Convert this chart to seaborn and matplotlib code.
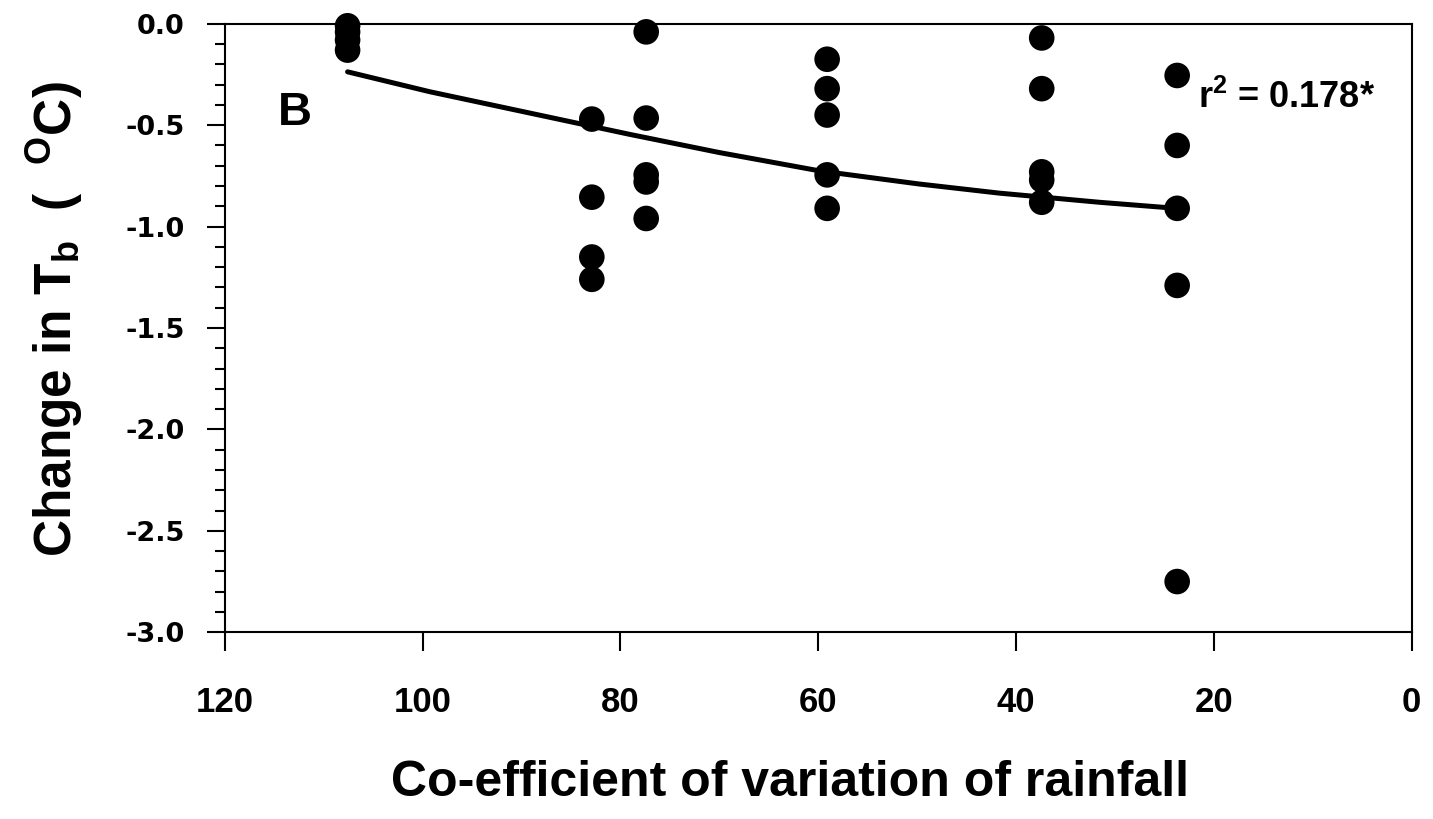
import matplotlib
matplotlib.use("Agg")
import matplotlib.pyplot as plt
import seaborn as sns
import pandas as pd
import numpy as np
from matplotlib.ticker import MultipleLocator

# ---- data ----
cv_groups = [107.6, 82.9, 77.4, 59.1, 37.4, 23.7]
tb_g1 = [-0.01, -0.04, -0.08, -0.13]
tb_g2 = [-0.47, -0.855, -1.15, -1.26]
tb_g3 = [-0.04, -0.465, -0.745, -0.78, -0.96]
tb_g4 = [-0.175, -0.32, -0.45, -0.745, -0.91]
tb_g5 = [-0.07, -0.32, -0.73, -0.77, -0.88]
tb_g6 = [-0.255, -0.60, -0.91, -1.29, -2.75]

fit_x = [107.6, 99.3, 89.2, 79.1, 70.0, 59.9, 49.8, 41.7, 31.6, 23.8]
fit_y = [-0.237, -0.335, -0.44, -0.545, -0.635, -0.725, -0.79, -0.835, -0.88, -0.91]

x_ticks = [120, 100, 80, 60, 40, 20, 0]
y_ticks = [0.0, -0.5, -1.0, -1.5, -2.0, -2.5, -3.0]

panel_label = "B"
r2_label = r"r$^\mathregular{2}$ = 0.178*"
xlabel = "Co-efficient of variation of rainfall"
ylabel = r"Change in T$_\mathregular{b}$  (  $^\mathregular{O}$C)"

rows = []
for cv, vals in zip(cv_groups, [tb_g1, tb_g2, tb_g3, tb_g4, tb_g5, tb_g6]):
    for v in vals:
        rows.append({"cv": cv, "tb": v})
df = pd.DataFrame(rows)
fit_df = pd.DataFrame({"cv": fit_x, "tb": fit_y})

sns.set_theme(style="white")
plt.rcParams["font.family"] = ["Liberation Sans", "DejaVu Sans"]
plt.rcParams["axes.unicode_minus"] = False
plt.rcParams["mathtext.default"] = "regular"
for key in ["text.color", "axes.labelcolor", "xtick.color", "ytick.color",
            "axes.edgecolor"]:
    plt.rcParams[key] = "black"

fig = plt.figure(figsize=(14.33, 8.19), dpi=100)
ax = fig.add_axes([0.157, 0.228, 0.828, 0.743])

sns.lineplot(data=fit_df, x="cv", y="tb", ax=ax, color="black", linewidth=3.6,
             zorder=2)
sns.scatterplot(data=df, x="cv", y="tb", ax=ax, color="black", s=340,
                edgecolor="none", zorder=3, clip_on=False)

ax.set_xlim(120, 0)
ax.set_ylim(-3.0, 0.0)
ax.set_xticks(x_ticks)
ax.set_yticks(y_ticks)
ax.set_xticklabels([str(t) for t in x_ticks], fontsize=25, fontweight="bold",
                   family="Liberation Sans")
ax.set_yticklabels([f"{t:.1f}" for t in y_ticks], fontsize=19.5, fontweight="bold",
                   family="DejaVu Sans")
ax.yaxis.set_minor_locator(MultipleLocator(0.1))

for sp in ax.spines.values():
    sp.set_visible(True)
    sp.set_color("black")
    sp.set_linewidth(1.5)

ax.tick_params(axis="y", which="major", direction="out", length=13, width=1.5,
               color="black", left=True, right=False, pad=16)
ax.tick_params(axis="y", which="minor", direction="out", length=7, width=1.5,
               color="black", left=True, right=False)
ax.tick_params(axis="x", which="major", direction="out", length=14, width=1.5,
               color="black", bottom=True, top=False, pad=25)

ax.set_xlabel(xlabel, fontsize=36, fontweight="bold")
ax.set_ylabel(ylabel, fontsize=37, fontweight="bold")
ax.xaxis.set_label_coords(0.476, -0.21)
ax.yaxis.set_label_coords(-0.118, 0.515)

ax.text(114.6, -0.44, panel_label, fontsize=34, fontweight="bold",
        ha="left", va="center")
ax.text(21.6, -0.365, r2_label, fontsize=26, fontweight="bold",
        ha="left", va="center")

fig.savefig("out.png", dpi=100, facecolor="white")
